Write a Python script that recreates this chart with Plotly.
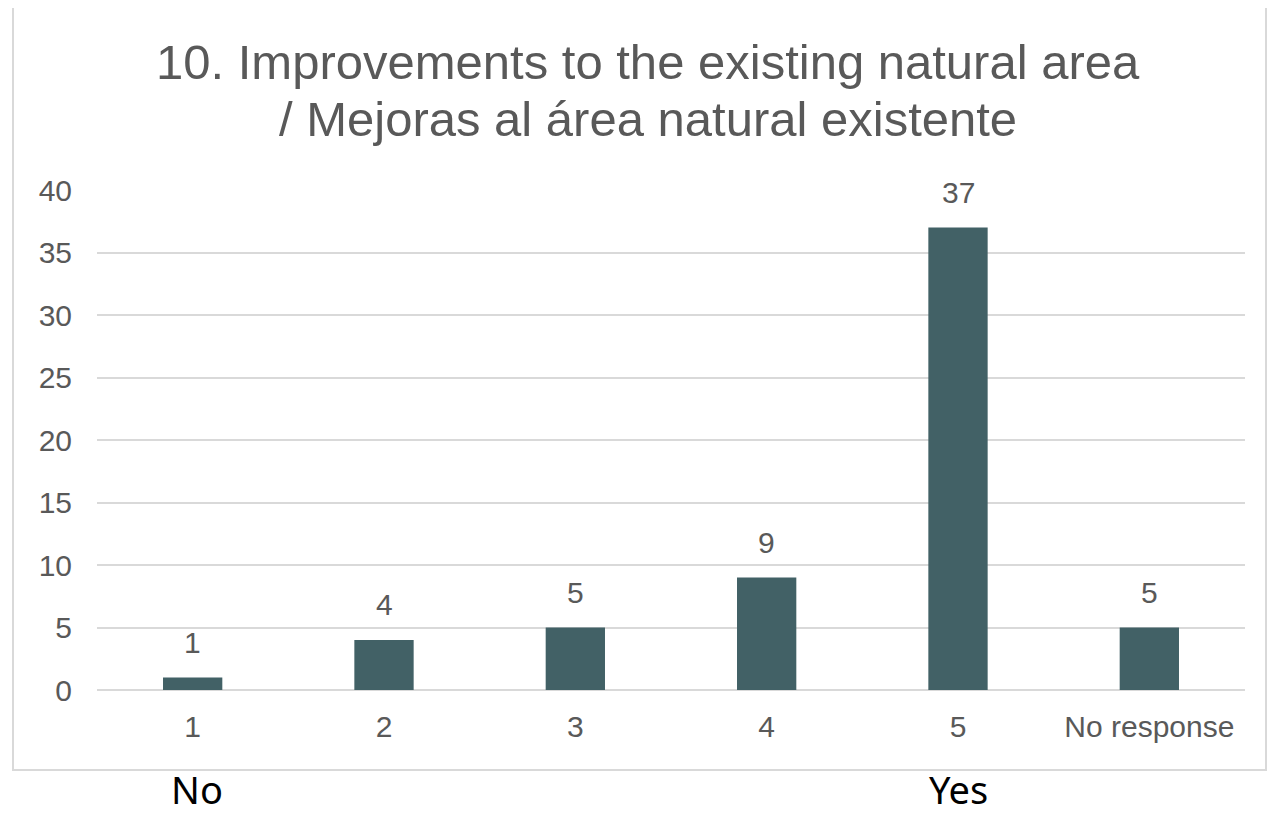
import plotly.graph_objects as go

categories = ["1", "2", "3", "4", "5", "No response"]
counts = [1, 4, 5, 9, 37, 5]
scale_ends = {"1": "No", "5": "Yes"}

title_lines = ["10. Improvements to the existing natural area", "/ Mejoras al área natural existente"]

bar_color = "#426166"
text_color = "#595959"
grid_color = "#d9d9d9"

# plot area in screen pixels: x 97..1245, y 190..690 (page body adds 8px offset)
def py_to_paper(py):
    return (690 - py) / 500

fig = go.Figure(
    go.Bar(
        x=categories,
        y=counts,
        marker=dict(color=bar_color, line=dict(width=0)),
        width=0.31,
        hoverinfo="x+y",
    )
)

annotations = []
# data labels above the bars (category axis: x is the category index)
for i, v in enumerate(counts):
    annotations.append(dict(
        x=i, y=v, xref="x", yref="y", text=str(v), showarrow=False,
        yanchor="bottom", yshift=17,
        font=dict(family="Liberation Sans, Arial, sans-serif", size=30, color=text_color),
    ))
# No / Yes under the scale ends
for c, label in scale_ends.items():
    annotations.append(dict(
        x=categories.index(c), y=py_to_paper(789), xref="x", yref="paper", text=label,
        showarrow=False, xanchor="center", yanchor="middle", xshift=4 if label == "No" else 0,
        font=dict(family="Noto Sans, sans-serif", size=38, color="#000000"),
    ))
# title, one annotation per line
for i, line in enumerate(title_lines):
    annotations.append(dict(
        x=(648 - 97) / 1148, y=py_to_paper(62 + 57 * i), xref="paper", yref="paper",
        text=line, showarrow=False, xanchor="center", yanchor="middle",
        font=dict(family="Liberation Sans, Arial, sans-serif", size=49, color=text_color),
    ))

fig.update_layout(
    width=1268,
    height=807,
    margin=dict(l=89, r=31, t=182, b=125),
    paper_bgcolor="white",
    plot_bgcolor="white",
    showlegend=False,
    annotations=annotations,
    shapes=[dict(
        type="rect", xref="paper", yref="paper",
        x0=(13 - 97) / 1148, x1=(1266 - 97) / 1148,
        y0=py_to_paper(770), y1=py_to_paper(6),
        line=dict(color="#d9d9d9", width=2), fillcolor="rgba(0,0,0,0)", layer="below",
    )],
    xaxis=dict(
        type="category",
        showgrid=False,
        showline=False,
        ticks="",
        ticklabelstandoff=16,
        tickfont=dict(family="Liberation Sans, Arial, sans-serif", size=30, color=text_color),
    ),
    yaxis=dict(
        range=[0, 40],
        dtick=5,
        showgrid=True,
        gridcolor=grid_color,
        gridwidth=2,
        zeroline=True,
        zerolinecolor=grid_color,
        zerolinewidth=2,
        showline=False,
        ticks="",
        ticklabelstandoff=24,
        tickfont=dict(family="Liberation Sans, Arial, sans-serif", size=30, color=text_color),
    ),
)

fig.write_html("out.html")
